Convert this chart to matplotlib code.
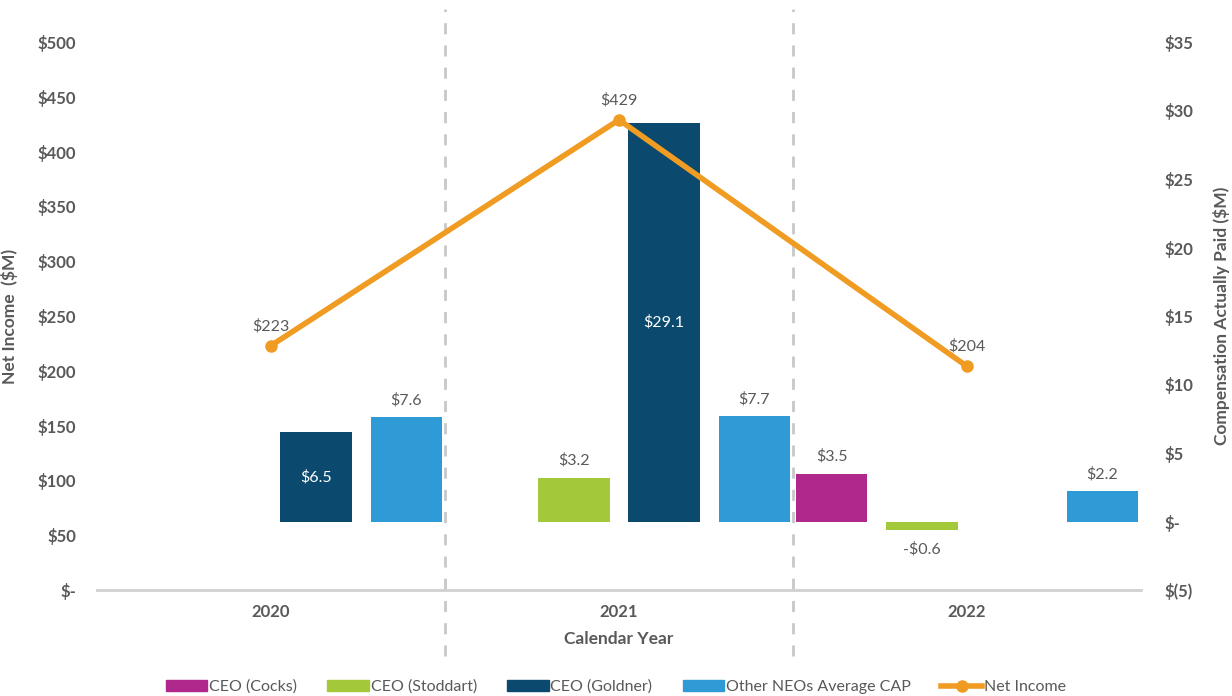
import matplotlib
matplotlib.use("Agg")
import matplotlib.pyplot as plt
from matplotlib.lines import Line2D
from matplotlib.patches import Patch

plt.rcParams['font.family'] = ['Lato', 'DejaVu Sans']

years = ["2020", "2021", "2022"]
series_names = ["CEO (Cocks)", "CEO (Stoddart)", "CEO (Goldner)", "Other NEOs Average CAP"]
cocks = [None, None, 3.5]
stoddart = [None, 3.2, -0.6]
goldner = [6.5, 29.1, None]
other_neos = [7.6, 7.7, 2.2]
net_income = [223, 429, 204]
colors = ["#B0288B", "#A3C93A", "#0B4A6E", "#2E9AD6"]
line_color = "#F09C22"
text_gray = "#595959"

left_ticks = [0, 50, 100, 150, 200, 250, 300, 350, 400, 450, 500]
left_labels = ["$-", "$50", "$100", "$150", "$200", "$250", "$300", "$350", "$400", "$450", "$500"]
right_ticks = [-5, 0, 5, 10, 15, 20, 25, 30, 35]
right_labels = ["$(5)", "$-", "$5", "$10", "$15", "$20", "$25", "$30", "$35"]

fig = plt.figure(figsize=(12.32, 6.96), dpi=100)
ax = fig.add_axes([97/1232, 106/696, (1141-97)/1232, 548/696])
ax2 = ax.twinx()

x = list(range(len(years)))
slot = 0.259
bw = 0.205
all_series = [cocks, stoddart, goldner, other_neos]
for si, vals in enumerate(all_series):
    off = (si - 1.5) * slot
    for xi, v in zip(x, vals):
        if v is None:
            continue
        ax2.bar(xi + off, v, width=bw, color=colors[si], zorder=2)
        if si == 2:
            ax2.text(xi + off, v / 2, f"${v:.1f}", ha='center', va='center',
                     color='white', fontsize=11.5, zorder=5)
        elif v >= 0:
            ax2.annotate(f"${v:.1f}", (xi + off, v), xytext=(0, 7), textcoords='offset points',
                         ha='center', va='bottom', color=text_gray, fontsize=11.5)
        else:
            ax2.annotate(f"-${abs(v):.1f}", (xi + off, v), xytext=(0, -9), textcoords='offset points',
                         ha='center', va='top', color=text_gray, fontsize=11.5)

# net income line on left axis, drawn above bars
ax.set_zorder(ax2.get_zorder() + 1)
ax.patch.set_visible(False)
ax.plot(x, net_income, color=line_color, lw=4, marker='o', ms=8, zorder=4)
for xi, v in zip(x, net_income):
    ax.annotate(f"${v}", (xi, v), xytext=(0, 9), textcoords='offset points',
                ha='center', va='bottom', color=text_gray, fontsize=11.5)

ax.set_xlim(-0.5, 2.5)
ax.set_ylim(0, 500)
ax2.set_ylim(-5, 35)
ax.set_yticks(left_ticks)
ax.set_yticklabels(left_labels)
ax2.set_yticks(right_ticks)
ax2.set_yticklabels(right_labels)
ax.set_xticks(x)
ax.set_xticklabels(years)

for a in (ax, ax2):
    for s in a.spines.values():
        s.set_visible(False)
    a.tick_params(length=0, colors=text_gray, labelsize=12)
    for lab in a.get_yticklabels() + a.get_xticklabels():
        lab.set_fontweight('bold')
ax.spines['bottom'].set_visible(True)
ax.spines['bottom'].set_color('#D0D0D0')
ax.spines['bottom'].set_linewidth(2)
ax.tick_params(axis='y', pad=15)
ax2.tick_params(axis='y', pad=17)
ax.tick_params(axis='x', pad=10)

for xv in (0.5, 1.5):
    ax.plot([xv, xv], [-0.12, 1.06], transform=ax.get_xaxis_transform(), clip_on=False,
            color='#C8C8C8', lw=2, ls=(0, (4, 4)), zorder=1)

ax.set_xlabel("Calendar Year", fontsize=12.5, fontweight='bold', color=text_gray, labelpad=8)
ax.set_ylabel("Net Income  ($M)", fontsize=12.5, fontweight='bold', color=text_gray)
ax2.set_ylabel("Compensation Actually Paid ($M)", fontsize=12.5, fontweight='bold', color=text_gray)
ax.yaxis.set_label_coords(-0.0757, 0.5)
ax2.yaxis.set_label_coords(1.069, 0.5)

handles = [Patch(color=c, label=n) for c, n in zip(colors, series_names)]
handles.append(Line2D([0], [0], color=line_color, lw=4, marker='o', ms=8, label="Net Income"))
fig.legend(handles=handles, loc='lower center', bbox_to_anchor=(0.5, -0.018), ncol=5,
           frameon=False, fontsize=11.5, handlelength=2.6, handletextpad=0.1, columnspacing=1.9,
           labelcolor=text_gray)

fig.savefig("out.png", dpi=100)
